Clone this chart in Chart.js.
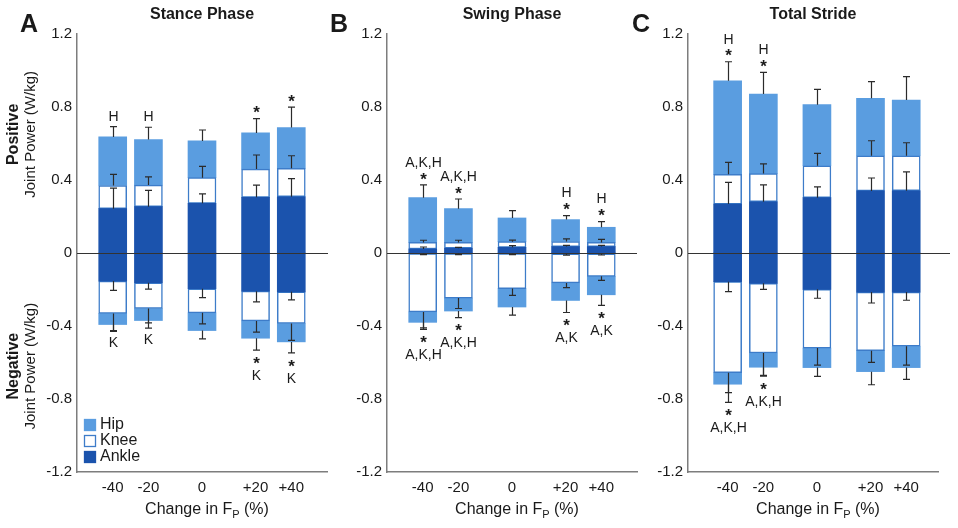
<!DOCTYPE html>
<html>
<head>
<meta charset="utf-8">
<script src="https://cdn.jsdelivr.net/npm/chart.js@4.4.1/dist/chart.umd.min.js"></script>
<style>
  html, body { margin: 0; padding: 0; background: #fff; }
  #wrap { position: relative; width: 958px; height: 528px; }
  #wrap canvas { position: absolute; left: 0; top: 0; }
</style>
</head>
<body>
<div id="wrap">
  <canvas id="stance" width="958" height="528"></canvas>
  <canvas id="swing" width="958" height="528"></canvas>
  <canvas id="total" width="958" height="528"></canvas>
</div>
<script>
// x positions of the five conditions (gap around 0) and their tick labels
const positions = [1, 2, 3.5, 5, 6]
const tickLabels = ['-40', '-20', '0', '+20', '+40']

// Stance phase (W/kg), segment values, positive and negative work
const stanceAnklePos = [0.243, 0.254, 0.272, 0.305, 0.308]
const stanceKneePos = [0.127, 0.118, 0.141, 0.155, 0.156]
const stanceHipPos = [0.266, 0.250, 0.201, 0.198, 0.223]
const stanceAnkleNeg = [-0.154, -0.163, -0.196, -0.209, -0.213]
const stanceKneeNeg = [-0.177, -0.141, -0.132, -0.163, -0.173]
const stanceHipNeg = [-0.061, -0.066, -0.097, -0.095, -0.101]
const stanceAnklePosSd = [0.112, 0.089, 0.052, 0.067, 0.100]
const stanceKneePosSd = [0.061, 0.045, 0.062, 0.077, 0.069]
const stanceHipPosSd = [0.056, 0.067, 0.060, 0.078, 0.112]
const stanceAnkleNegSd = [0.051, 0.035, 0.048, 0.059, 0.044]
const stanceKneeNegSd = [0.094, 0.079, 0.060, 0.062, 0.093]
const stanceHipNegSd = [0.038, 0.042, 0.045, 0.065, 0.060]

// Swing phase
const swingAnklePos = [0.022, 0.026, 0.031, 0.035, 0.035]
const swingKneePos = [0.036, 0.032, 0.031, 0.028, 0.023]
const swingHipPos = [0.245, 0.185, 0.130, 0.120, 0.083]
const swingAnkleNeg = [-0.003, -0.003, -0.003, -0.004, -0.004]
const swingKneeNeg = [-0.320, -0.244, -0.192, -0.160, -0.124]
const swingHipNeg = [-0.057, -0.071, -0.101, -0.096, -0.101]
const swingAnklePosSd = [0.011, 0.005, 0.009, 0.007, 0.007]
const swingKneePosSd = [0.012, 0.012, 0.009, 0.014, 0.017]
const swingHipPosSd = [0.070, 0.053, 0.040, 0.022, 0.031]
const swingAnkleNegSd = [0.006, 0.006, 0.006, 0.008, 0.007]
const swingKneeNegSd = [0.087, 0.057, 0.037, 0.026, 0.022]
const swingHipNegSd = [0.038, 0.036, 0.044, 0.066, 0.058]

// Total stride
const totalAnklePos = [0.268, 0.281, 0.303, 0.340, 0.341]
const totalKneePos = [0.163, 0.154, 0.175, 0.193, 0.192]
const totalHipPos = [0.513, 0.436, 0.335, 0.315, 0.305]
const totalAnkleNeg = [-0.157, -0.166, -0.199, -0.214, -0.214]
const totalKneeNeg = [-0.499, -0.382, -0.322, -0.321, -0.297]
const totalHipNeg = [-0.063, -0.078, -0.107, -0.115, -0.117]
const totalAnklePosSd = [0.119, 0.092, 0.059, 0.071, 0.103]
const totalKneePosSd = [0.066, 0.053, 0.068, 0.082, 0.071]
const totalHipPosSd = [0.104, 0.119, 0.084, 0.091, 0.128]
const totalAnkleNegSd = [0.055, 0.033, 0.049, 0.060, 0.045]
const totalKneeNegSd = [0.109, 0.122, 0.093, 0.064, 0.103]
const totalHipNegSd = [0.099, 0.049, 0.048, 0.072, 0.064]

// significance marks
const stancePosStar = [false, false, false, true, true]
const stancePosLabel = ['H', 'H', '', '', '']
const stanceNegStar = [false, false, false, true, true]
const stanceNegLabel = ['K', 'K', '', 'K', 'K']
const swingPosStar = [true, true, false, true, true]
const swingPosLabel = ['A,K,H', 'A,K,H', '', 'H', 'H']
const swingNegStar = [true, true, false, true, true]
const swingNegLabel = ['A,K,H', 'A,K,H', '', 'A,K', 'A,K']
const totalPosStar = [true, true, false, false, false]
const totalPosLabel = ['H', 'H', '', '', '']
const totalNegStar = [true, true, false, false, false]
const totalNegLabel = ['A,K,H', 'A,K,H', '', '', '']

const HIP = '#5a9de0'
const KNEE_EDGE = '#3d7cc9'
const ANKLE = '#1b53ad'
const FONT = '"Liberation Sans", Arial, Helvetica, sans-serif'
const INK = '#1a1a1a'

function text(ctx, s, x, y, font, align) {
    ctx.font = font
    ctx.textAlign = align || 'center'
    ctx.textBaseline = 'middle'
    ctx.fillStyle = INK
    ctx.fillText(s, x, y)
}

function errBar(ctx, x, y1, y2) {
    ctx.beginPath()
    ctx.moveTo(x, y1)
    ctx.lineTo(x, y2)
    ctx.moveTo(x - 3.5, y2)
    ctx.lineTo(x + 3.5, y2)
    ctx.stroke()
}

function star(ctx, x, y) {
    text(ctx, '*', x, y + 4, 'bold 17px ' + FONT)
}

const overlay = {
    id: 'overlay',
    afterDatasetsDraw(chart, args, opts) {
        const p = opts.panel
        const ctx = chart.ctx
        const xs = chart.scales.x
        const ys = chart.scales.y
        const area = chart.chartArea
        ctx.save()
        ctx.strokeStyle = '#333'
        ctx.lineWidth = 1
        const y0 = Math.round(ys.getPixelForValue(0)) + 0.5
        ctx.beginPath()
        ctx.moveTo(area.left, y0)
        ctx.lineTo(area.right + p.zeroExtend, y0)
        ctx.stroke()

        ctx.strokeStyle = '#2b2b2b'
        ctx.lineWidth = 1.2
        positions.forEach((xv, j) => {
            const px = Math.round(xs.getPixelForValue(xv)) + 0.5
            let top = 0, bot = 0, maxTop = 0, minBot = 0
            p.layers.forEach(l => {
                top += l.pos[j]
                bot += l.neg[j]
                errBar(ctx, px, ys.getPixelForValue(top), ys.getPixelForValue(top + l.posSd[j]))
                errBar(ctx, px, ys.getPixelForValue(bot), ys.getPixelForValue(bot - l.negSd[j]))
                maxTop = Math.max(maxTop, top + l.posSd[j])
                minBot = Math.min(minBot, bot - l.negSd[j])
            })
            const yt = ys.getPixelForValue(maxTop)
            if (p.posStar[j]) {
                star(ctx, px, yt - 9)
                if (p.posLabel[j]) text(ctx, p.posLabel[j], px, yt - 22, '14px ' + FONT)
            } else if (p.posLabel[j]) {
                text(ctx, p.posLabel[j], px, yt - 10, '14px ' + FONT)
            }
            const yb = ys.getPixelForValue(minBot)
            if (p.negStar[j]) {
                star(ctx, px, yb + 10)
                if (p.negLabel[j]) text(ctx, p.negLabel[j], px, yb + 26, '14px ' + FONT)
            } else if (p.negLabel[j]) {
                text(ctx, p.negLabel[j], px, yb + 12, '14px ' + FONT)
            }
        })
        ctx.restore()
    },
    afterDraw(chart, args, opts) {
        const p = opts.panel
        const ctx = chart.ctx
        const area = chart.chartArea
        const cx = (area.left + area.right) / 2
        ctx.save()
        text(ctx, p.title, cx, 15, 'bold 16px ' + FONT)
        text(ctx, p.letter, p.letterX, 25, 'bold 25px ' + FONT, 'left')

        // x axis title with subscript
        const main = 'Change in F', sub = 'P', tail = ' (%)'
        ctx.font = '16px ' + FONT
        const w1 = ctx.measureText(main).width, w3 = ctx.measureText(tail).width
        ctx.font = '11px ' + FONT
        const w2 = ctx.measureText(sub).width
        let x = cx + 5 - (w1 + w2 + w3) / 2
        text(ctx, main, x, 510, '16px ' + FONT, 'left')
        text(ctx, sub, x + w1, 515, '11px ' + FONT, 'left')
        text(ctx, tail, x + w1 + w2, 510, '16px ' + FONT, 'left')

        if (p.showSide) {
            const ys = chart.scales.y
            const sides = [['Positive', 0.65], ['Negative', -0.62]]
            sides.forEach(([word, v]) => {
                const yc = ys.getPixelForValue(v)
                ctx.save()
                ctx.translate(14, yc)
                ctx.rotate(-Math.PI / 2)
                text(ctx, word, 0, 0, 'bold 16px ' + FONT)
                ctx.restore()
                ctx.save()
                ctx.translate(31, yc)
                ctx.rotate(-Math.PI / 2)
                text(ctx, 'Joint Power (W/kg)', 0, 0, '15px ' + FONT)
                ctx.restore()
            })
            // legend
            const items = [['Hip', HIP, HIP], ['Knee', '#fff', KNEE_EDGE], ['Ankle', ANKLE, ANKLE]]
            items.forEach(([name, fill, edge], k) => {
                const yy = 425 + k * 16
                ctx.fillStyle = fill
                ctx.fillRect(84, yy - 6, 12, 12)
                ctx.strokeStyle = edge
                ctx.lineWidth = 1.3
                ctx.strokeRect(84.5, yy - 5.5, 11, 11)
                text(ctx, name, 100, yy, '16px ' + FONT, 'left')
            })
        }
        ctx.restore()
    }
}

function makePanel(id, panel) {
    const pts = arr => positions.map((x, i) => ({ x: x, y: arr[i] }))
    const styles = [
        { backgroundColor: ANKLE, borderWidth: 0 },
        { backgroundColor: '#ffffff', borderColor: KNEE_EDGE, borderWidth: 1.5, borderSkipped: false },
        { backgroundColor: HIP, borderWidth: 0 }
    ]
    const names = ['Ankle', 'Knee', 'Hip']
    const datasets = []
    panel.layers.forEach((l, k) => {
        datasets.push(Object.assign({ label: names[k], data: pts(l.pos), stack: 'j', barThickness: 28 }, styles[k]))
        datasets.push(Object.assign({ label: names[k] + ' neg', data: pts(l.neg), stack: 'j', barThickness: 28 }, styles[k]))
    })
    return new Chart(document.getElementById(id), {
        type: 'bar',
        data: { datasets: datasets },
        plugins: [overlay],
        options: {
            responsive: false,
            animation: false,
            devicePixelRatio: 1,
            layout: { padding: { left: panel.padLeft, right: panel.padRight, top: 34, bottom: 0 } },
            plugins: {
                legend: { display: false },
                tooltip: { enabled: false },
                overlay: { panel: panel }
            },
            scales: {
                x: {
                    type: 'linear',
                    stacked: true,
                    offset: false,
                    min: panel.xMin,
                    max: panel.xMin + 7,
                    grid: { display: false, drawTicks: false },
                    border: { display: true, color: '#7d7d7d', width: 1.5 },
                    afterBuildTicks: s => { s.ticks = positions.map(v => ({ value: v })) },
                    afterFit: s => { s.height = 56 },
                    ticks: {
                        autoSkip: false,
                        maxRotation: 0,
                        padding: 7,
                        color: INK,
                        font: { family: FONT, size: 15 },
                        callback: v => tickLabels[positions.indexOf(v)]
                    }
                },
                y: {
                    stacked: true,
                    min: -1.2,
                    max: 1.2,
                    grid: { display: false, drawTicks: false },
                    border: { display: true, color: '#7d7d7d', width: 1.5 },
                    afterFit: s => { s.width = 77 },
                    ticks: {
                        stepSize: 0.4,
                        padding: 5,
                        color: INK,
                        font: { family: FONT, size: 15 },
                        callback: v => Math.abs(v) < 1e-9 ? '0' : v.toFixed(1)
                    }
                }
            }
        }
    })
}

makePanel('stance', {
    title: 'Stance Phase', letter: 'A', letterX: 20, showSide: true,
    padLeft: 0, padRight: 631, xMin: 0, zeroExtend: 1,
    layers: [
        { pos: stanceAnklePos, neg: stanceAnkleNeg, posSd: stanceAnklePosSd, negSd: stanceAnkleNegSd },
        { pos: stanceKneePos, neg: stanceKneeNeg, posSd: stanceKneePosSd, negSd: stanceKneeNegSd },
        { pos: stanceHipPos, neg: stanceHipNeg, posSd: stanceHipPosSd, negSd: stanceHipNegSd }
    ],
    posStar: stancePosStar, posLabel: stancePosLabel, negStar: stanceNegStar, negLabel: stanceNegLabel
})

makePanel('swing', {
    title: 'Swing Phase', letter: 'B', letterX: 330, showSide: false,
    padLeft: 310, padRight: 321, xMin: 0, zeroExtend: 0,
    layers: [
        { pos: swingAnklePos, neg: swingAnkleNeg, posSd: swingAnklePosSd, negSd: swingAnkleNegSd },
        { pos: swingKneePos, neg: swingKneeNeg, posSd: swingKneePosSd, negSd: swingKneeNegSd },
        { pos: swingHipPos, neg: swingHipNeg, posSd: swingHipPosSd, negSd: swingHipNegSd }
    ],
    posStar: swingPosStar, posLabel: swingPosLabel, negStar: swingNegStar, negLabel: swingNegLabel
})

makePanel('total', {
    title: 'Total Stride', letter: 'C', letterX: 632, showSide: false,
    padLeft: 611, padRight: 20, xMin: -0.11, zeroExtend: 12,
    layers: [
        { pos: totalAnklePos, neg: totalAnkleNeg, posSd: totalAnklePosSd, negSd: totalAnkleNegSd },
        { pos: totalKneePos, neg: totalKneeNeg, posSd: totalKneePosSd, negSd: totalKneeNegSd },
        { pos: totalHipPos, neg: totalHipNeg, posSd: totalHipPosSd, negSd: totalHipNegSd }
    ],
    posStar: totalPosStar, posLabel: totalPosLabel, negStar: totalNegStar, negLabel: totalNegLabel
})
</script>
</body>
</html>
